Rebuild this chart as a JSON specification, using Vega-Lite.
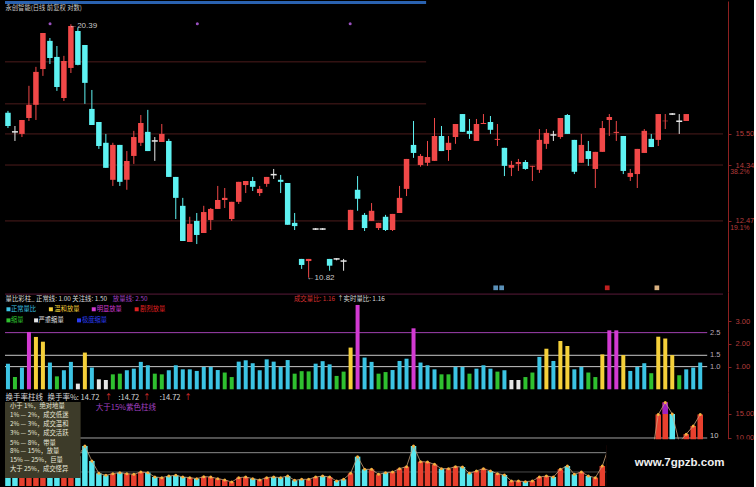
{
"$schema":"https://vega.github.io/schema/vega-lite/v6.json",
"background":"#000000",
"padding":0,
"spacing":0,
"config":{"view":{"stroke":null},"axis":{"grid":false,"domainColor":"#8c2020","tickColor":"#8c2020","labelColor":"#b53c3c","labelFont":"Liberation Sans","labelFontSize":7.5,"tickSize":3,"labelPadding":4},"text":{"font":"Noto Sans CJK SC"}},
"datasets":{
"k":[
{"i":0,"o":16.34,"h":16.42,"l":15.73,"c":15.81,"vr":1.13,"vt":"正常量比","t":3.5,"d":"down"},
{"i":1,"o":15.58,"h":15.81,"l":15.23,"c":15.58,"vr":0.54,"vt":"缩量","t":2.8,"d":"down"},
{"i":2,"o":15.50,"h":16.05,"l":15.38,"c":16.05,"vr":0.96,"vt":"正常量比","t":3.2,"d":"up"},
{"i":3,"o":16.13,"h":17.48,"l":16.01,"c":16.67,"vr":2.53,"vt":"明显放量","t":4.0,"d":"up"},
{"i":4,"o":16.67,"h":18.33,"l":16.05,"c":18.10,"vr":2.31,"vt":"温和放量","t":5.5,"d":"up"},
{"i":5,"o":18.23,"h":19.95,"l":17.92,"c":19.95,"vr":2.10,"vt":"温和放量","t":6.5,"d":"up"},
{"i":6,"o":19.56,"h":19.70,"l":18.46,"c":18.74,"vr":1.18,"vt":"正常量比","t":5.8,"d":"down"},
{"i":7,"o":18.79,"h":19.31,"l":17.26,"c":17.43,"vr":0.57,"vt":"缩量","t":5.0,"d":"down"},
{"i":8,"o":16.96,"h":18.84,"l":16.83,"c":18.60,"vr":0.84,"vt":"正常量比","t":5.2,"d":"up"},
{"i":9,"o":18.28,"h":20.39,"l":18.05,"c":20.30,"vr":1.21,"vt":"正常量比","t":7.0,"d":"up"},
{"i":10,"o":20.05,"h":20.20,"l":18.40,"c":18.42,"vr":0.25,"vt":"严重缩量","t":6.2,"d":"down"},
{"i":11,"o":19.36,"h":19.36,"l":16.71,"c":17.61,"vr":1.62,"vt":"温和放量","t":8.33,"d":"down"},
{"i":12,"o":16.50,"h":17.30,"l":15.85,"c":15.85,"vr":0.96,"vt":"正常量比","t":5.21,"d":"down"},
{"i":13,"o":15.97,"h":15.97,"l":14.93,"c":15.04,"vr":0.44,"vt":"严重缩量","t":2.64,"d":"down"},
{"i":14,"o":15.16,"h":15.50,"l":14.24,"c":14.24,"vr":0.41,"vt":"严重缩量","t":2.22,"d":"down"},
{"i":15,"o":13.82,"h":15.16,"l":13.61,"c":15.08,"vr":0.66,"vt":"缩量","t":2.57,"d":"up"},
{"i":16,"o":15.08,"h":15.08,"l":13.61,"c":13.75,"vr":0.69,"vt":"缩量","t":2.78,"d":"down"},
{"i":17,"o":13.82,"h":14.85,"l":13.48,"c":14.49,"vr":0.84,"vt":"正常量比","t":2.57,"d":"up"},
{"i":18,"o":14.67,"h":15.62,"l":14.38,"c":15.38,"vr":0.91,"vt":"正常量比","t":2.43,"d":"up"},
{"i":19,"o":15.16,"h":16.25,"l":15.04,"c":15.93,"vr":1.21,"vt":"正常量比","t":2.92,"d":"up"},
{"i":20,"o":15.58,"h":16.46,"l":14.85,"c":14.85,"vr":1.06,"vt":"正常量比","t":2.78,"d":"down"},
{"i":21,"o":15.23,"h":15.38,"l":14.49,"c":15.23,"vr":0.69,"vt":"缩量","t":1.88,"d":"down"},
{"i":22,"o":15.19,"h":15.89,"l":15.19,"c":15.50,"vr":0.66,"vt":"缩量","t":1.74,"d":"up"},
{"i":23,"o":15.23,"h":15.31,"l":13.92,"c":13.92,"vr":0.84,"vt":"正常量比","t":2.08,"d":"down"},
{"i":24,"o":13.92,"h":13.92,"l":12.53,"c":13.21,"vr":1.06,"vt":"正常量比","t":2.22,"d":"down"},
{"i":25,"o":12.95,"h":13.21,"l":11.86,"c":11.86,"vr":0.88,"vt":"正常量比","t":1.88,"d":"down"},
{"i":26,"o":11.83,"h":12.60,"l":11.83,"c":12.38,"vr":0.88,"vt":"正常量比","t":1.74,"d":"up"},
{"i":27,"o":12.47,"h":12.72,"l":11.77,"c":12.04,"vr":0.81,"vt":"正常量比","t":1.53,"d":"down"},
{"i":28,"o":12.10,"h":12.95,"l":12.10,"c":12.75,"vr":0.99,"vt":"正常量比","t":1.94,"d":"up"},
{"i":29,"o":12.50,"h":12.88,"l":12.19,"c":12.85,"vr":0.99,"vt":"正常量比","t":1.88,"d":"up"},
{"i":30,"o":12.85,"h":13.61,"l":12.85,"c":13.14,"vr":0.85,"vt":"正常量比","t":1.53,"d":"up"},
{"i":31,"o":13.14,"h":13.54,"l":12.88,"c":13.21,"vr":0.74,"vt":"缩量","t":1.25,"d":"up"},
{"i":32,"o":12.53,"h":13.08,"l":12.47,"c":13.08,"vr":0.54,"vt":"缩量","t":0.83,"d":"up"},
{"i":33,"o":13.08,"h":13.75,"l":13.01,"c":13.75,"vr":1.22,"vt":"正常量比","t":1.74,"d":"up"},
{"i":34,"o":13.64,"h":13.78,"l":13.37,"c":13.78,"vr":1.28,"vt":"正常量比","t":1.88,"d":"up"},
{"i":35,"o":13.78,"h":13.92,"l":13.44,"c":13.58,"vr":1.15,"vt":"正常量比","t":1.53,"d":"down"},
{"i":36,"o":13.37,"h":13.61,"l":13.27,"c":13.51,"vr":0.84,"vt":"正常量比","t":1.25,"d":"up"},
{"i":37,"o":13.68,"h":13.92,"l":13.58,"c":13.92,"vr":1.32,"vt":"正常量比","t":1.74,"d":"up"},
{"i":38,"o":14.00,"h":14.20,"l":13.85,"c":14.00,"vr":1.22,"vt":"正常量比","t":1.88,"d":"down"},
{"i":39,"o":13.82,"h":13.99,"l":13.37,"c":13.75,"vr":0.99,"vt":"正常量比","t":1.74,"d":"down"},
{"i":40,"o":13.71,"h":13.71,"l":12.35,"c":12.35,"vr":1.29,"vt":"正常量比","t":2.08,"d":"down"},
{"i":41,"o":12.41,"h":12.72,"l":12.19,"c":12.31,"vr":0.69,"vt":"缩量","t":1.18,"d":"down"},
{"i":42,"o":11.34,"h":11.34,"l":11.06,"c":11.17,"vr":0.80,"vt":"缩量","t":1.39,"d":"down"},
{"i":43,"o":11.28,"h":11.34,"l":10.82,"c":11.34,"vr":0.79,"vt":"缩量","t":1.39,"d":"up"},
{"i":44,"o":12.22,"h":12.25,"l":12.19,"c":12.22,"vr":1.13,"vt":"正常量比","t":1.88,"d":"up"},
{"i":45,"o":12.22,"h":12.25,"l":12.19,"c":12.22,"vr":1.24,"vt":"正常量比","t":2.08,"d":"down"},
{"i":46,"o":11.34,"h":11.34,"l":11.01,"c":11.15,"vr":1.10,"vt":"正常量比","t":1.88,"d":"up"},
{"i":47,"o":11.34,"h":11.36,"l":11.30,"c":11.34,"vr":0.59,"vt":"缩量","t":1.04,"d":"down"},
{"i":48,"o":11.28,"h":11.34,"l":11.01,"c":11.28,"vr":0.78,"vt":"缩量","t":1.39,"d":"down"},
{"i":49,"o":12.19,"h":12.82,"l":12.19,"c":12.82,"vr":1.84,"vt":"温和放量","t":2.64,"d":"up"},
{"i":50,"o":13.48,"h":13.95,"l":12.79,"c":13.18,"vr":3.72,"vt":"明显放量","t":6.11,"d":"down"},
{"i":51,"o":12.66,"h":12.72,"l":12.16,"c":12.25,"vr":1.40,"vt":"正常量比","t":3.47,"d":"down"},
{"i":52,"o":12.47,"h":13.04,"l":12.47,"c":12.79,"vr":1.21,"vt":"正常量比","t":3.47,"d":"up"},
{"i":53,"o":12.25,"h":12.41,"l":12.19,"c":12.41,"vr":0.69,"vt":"缩量","t":2.43,"d":"up"},
{"i":54,"o":12.60,"h":12.66,"l":12.16,"c":12.19,"vr":0.76,"vt":"缩量","t":2.78,"d":"down"},
{"i":55,"o":12.19,"h":12.69,"l":12.16,"c":12.69,"vr":0.85,"vt":"正常量比","t":2.92,"d":"up"},
{"i":56,"o":12.72,"h":13.61,"l":12.72,"c":13.21,"vr":1.25,"vt":"正常量比","t":3.61,"d":"up"},
{"i":57,"o":13.51,"h":14.56,"l":13.27,"c":14.56,"vr":1.35,"vt":"正常量比","t":4.03,"d":"up"},
{"i":58,"o":15.08,"h":16.01,"l":14.60,"c":14.78,"vr":2.69,"vt":"明显放量","t":8.33,"d":"down"},
{"i":59,"o":14.34,"h":14.74,"l":14.28,"c":14.67,"vr":1.18,"vt":"正常量比","t":5.07,"d":"up"},
{"i":60,"o":14.42,"h":15.23,"l":14.31,"c":14.63,"vr":1.06,"vt":"正常量比","t":5.0,"d":"up"},
{"i":61,"o":14.49,"h":16.13,"l":14.49,"c":15.42,"vr":0.88,"vt":"正常量比","t":4.51,"d":"up"},
{"i":62,"o":15.42,"h":15.81,"l":14.85,"c":14.85,"vr":0.66,"vt":"缩量","t":3.61,"d":"down"},
{"i":63,"o":14.89,"h":15.42,"l":14.49,"c":15.16,"vr":0.66,"vt":"缩量","t":3.61,"d":"up"},
{"i":64,"o":15.38,"h":15.89,"l":15.12,"c":15.89,"vr":0.99,"vt":"正常量比","t":4.03,"d":"up"},
{"i":65,"o":16.29,"h":16.29,"l":15.58,"c":15.58,"vr":0.99,"vt":"正常量比","t":3.96,"d":"down"},
{"i":66,"o":15.62,"h":16.09,"l":15.31,"c":15.50,"vr":0.69,"vt":"缩量","t":2.64,"d":"down"},
{"i":67,"o":15.23,"h":16.09,"l":15.23,"c":15.89,"vr":0.91,"vt":"正常量比","t":3.13,"d":"up"},
{"i":68,"o":15.89,"h":16.29,"l":15.89,"c":15.93,"vr":1.06,"vt":"正常量比","t":3.61,"d":"up"},
{"i":69,"o":15.97,"h":16.21,"l":15.50,"c":15.66,"vr":0.91,"vt":"正常量比","t":3.13,"d":"down"},
{"i":70,"o":15.27,"h":15.89,"l":15.04,"c":15.31,"vr":0.78,"vt":"缩量","t":2.57,"d":"up"},
{"i":71,"o":14.97,"h":14.97,"l":13.95,"c":14.31,"vr":0.84,"vt":"正常量比","t":2.29,"d":"down"},
{"i":72,"o":14.24,"h":14.49,"l":13.95,"c":14.34,"vr":0.41,"vt":"严重缩量","t":1.04,"d":"up"},
{"i":73,"o":14.38,"h":14.56,"l":14.13,"c":14.45,"vr":0.41,"vt":"严重缩量","t":1.04,"d":"up"},
{"i":74,"o":14.45,"h":14.52,"l":14.17,"c":14.20,"vr":0.54,"vt":"缩量","t":0.90,"d":"down"},
{"i":75,"o":14.28,"h":14.31,"l":13.78,"c":14.31,"vr":0.74,"vt":"缩量","t":1.04,"d":"up"},
{"i":76,"o":14.17,"h":15.69,"l":14.06,"c":15.27,"vr":1.43,"vt":"正常量比","t":1.88,"d":"up"},
{"i":77,"o":15.12,"h":15.69,"l":14.93,"c":15.54,"vr":1.79,"vt":"温和放量","t":2.08,"d":"up"},
{"i":78,"o":15.46,"h":15.62,"l":15.23,"c":15.46,"vr":1.25,"vt":"正常量比","t":1.88,"d":"down"},
{"i":79,"o":15.38,"h":16.13,"l":15.31,"c":16.13,"vr":2.13,"vt":"温和放量","t":3.47,"d":"up"},
{"i":80,"o":16.25,"h":16.29,"l":15.50,"c":15.50,"vr":1.91,"vt":"温和放量","t":4.17,"d":"down"},
{"i":81,"o":15.27,"h":15.27,"l":14.02,"c":14.10,"vr":0.88,"vt":"正常量比","t":2.43,"d":"down"},
{"i":82,"o":14.42,"h":15.50,"l":14.42,"c":15.08,"vr":0.99,"vt":"正常量比","t":2.92,"d":"up"},
{"i":83,"o":14.85,"h":15.23,"l":14.31,"c":14.56,"vr":0.74,"vt":"缩量","t":2.08,"d":"down"},
{"i":84,"o":14.20,"h":14.82,"l":13.54,"c":14.82,"vr":0.54,"vt":"缩量","t":1.74,"d":"up"},
{"i":85,"o":14.82,"h":16.01,"l":14.82,"c":15.73,"vr":1.54,"vt":"温和放量","t":4.17,"d":"up"},
{"i":86,"o":16.05,"h":16.29,"l":15.42,"c":16.17,"vr":2.60,"vt":"明显放量","t":8.5,"d":"up"},
{"i":87,"o":15.54,"h":16.01,"l":15.23,"c":15.58,"vr":2.60,"vt":"明显放量","t":9.0,"d":"up"},
{"i":88,"o":15.42,"h":15.42,"l":14.02,"c":14.13,"vr":1.51,"vt":"温和放量","t":7.5,"d":"down"},
{"i":89,"o":13.92,"h":14.20,"l":13.78,"c":14.06,"vr":0.81,"vt":"正常量比","t":5.0,"d":"up"},
{"i":90,"o":14.02,"h":14.93,"l":13.54,"c":14.93,"vr":0.99,"vt":"正常量比","t":6.0,"d":"up"},
{"i":91,"o":14.78,"h":15.69,"l":14.78,"c":15.62,"vr":1.15,"vt":"正常量比","t":7.0,"d":"up"},
{"i":92,"o":15.31,"h":15.50,"l":15.00,"c":15.00,"vr":0.71,"vt":"缩量","t":5.5,"d":"down"},
{"i":93,"o":15.27,"h":16.29,"l":15.04,"c":16.29,"vr":2.32,"vt":"温和放量","t":14.9,"d":"up"},
{"i":94,"o":16.00,"h":16.29,"l":15.69,"c":16.02,"vr":2.24,"vt":"温和放量","t":17.4,"d":"up"},
{"i":95,"o":16.29,"h":16.33,"l":16.25,"c":16.29,"vr":1.51,"vt":"温和放量","t":15.0,"d":"down"},
{"i":96,"o":16.00,"h":16.29,"l":15.50,"c":16.00,"vr":0.62,"vt":"缩量","t":9.0,"d":"down"},
{"i":97,"o":16.01,"h":16.29,"l":16.01,"c":16.29,"vr":0.88,"vt":"正常量比","t":10.8,"d":"up"},
{"i":98,"vr":0.96,"vt":"正常量比","t":12.5,"d":"up"},
{"i":99,"vr":1.18,"vt":"正常量比","t":14.9,"d":"up"}
],
"p1lines":[{"a":-0.423,"b":59.8,"p":18.56},{"a":-0.423,"b":59.8,"p":16.71},{"a":-0.423,"b":102.257,"p":15.5},{"a":-0.423,"b":102.257,"p":14.34},{"a":-0.423,"b":102.257,"p":12.47}],
"topbar":[{"a":-0.423,"b":59.8,"p":21.53}],
"pdots":[{"i":6.02,"p":20.42},{"i":27.08,"p":20.42},{"i":48.94,"p":20.42}],
"icons":[{"i":69.75,"p":10.55,"s":"融"},{"i":70.6,"p":10.55,"s":"财"},{"i":85.7,"p":10.55,"s":"点"},{"i":92.8,"p":10.55,"s":"标"}],
"arrows":[{"i":8.75,"p":20.32,"s":"←20.39"},{"i":42.7,"p":10.80,"s":"←10.82"}],
"p1head":[{"i":-0.35,"p":21.24,"s":"永创智能(日线 前复权 对数)"}],
"pct":[{"i":103.3,"p":14.08,"s":"38.2%"},{"i":103.3,"p":12.24,"s":"19.1%"}],
"p2lines":[{"a":-0.423,"b":100.0,"v":2.5,"k":"放量线"},{"a":-0.423,"b":100.0,"v":1.5,"k":"关注线"},{"a":-0.423,"b":100.0,"v":1.0,"k":"正常线"},{"a":-0.423,"b":102.257,"v":4.2,"k":"边框"}],
"p2lab":[{"i":100.4,"v":2.5,"s":"2.5"},{"i":100.4,"v":1.5,"s":"1.5"},{"i":100.4,"v":1.0,"s":"1.0"}],
"p2leg":[{"a":0.07,"b":0.42,"v":3.53,"vt":"正常量比"},{"a":6.14,"b":6.63,"v":3.53,"vt":"温和放量"},{"a":12.27,"b":12.69,"v":3.53,"vt":"明显放量"},{"a":18.41,"b":18.9,"v":3.53,"vt":"剧烈放量"},{"a":0.07,"b":0.42,"v":3.04,"vt":"缩量"},{"a":4.02,"b":4.37,"v":3.04,"vt":"严重缩量"},{"a":10.16,"b":10.58,"v":3.04,"vt":"极度缩量"}],
"p2head":[{"i":-0.35,"v":4.0,"s":"量比彩柱_  正常线: 1.00  关注线: 1.50","vt":"白"},{"i":15.0,"v":4.0,"s":"放量线: 2.50","vt":"紫"},{"i":40.9,"v":4.0,"s":"成交量比: 1.16","vt":"红"},{"i":47.1,"v":4.0,"s":"↑","vt":"白"},{"i":48.0,"v":4.0,"s":"实时量比: 1.16","vt":"白"}],
"p3lines":[{"a":-0.423,"b":102.257,"v":2.92,"d":"线1"},{"a":-0.423,"b":102.257,"v":6.94,"d":"线2"},{"a":-0.423,"b":100.0,"v":10,"d":"线3"}],
"p3over":[{"i":94,"a":15,"b":17.4}],
"p3box":[{"a":85.55,"b":106.0,"v1":9.75,"v2":-0.417}],
"p3legbox":[{"a":-0.423,"b":10.39,"v1":17.5,"v2":1.67}],
"p3wm":[{"i":96.05,"v":4.79,"s":"www.7gpzb.com"}],
"p3ten":[{"i":100.4,"v":10,"s":"10"}],
"p3leg":[{"i":0.28,"v":16.56,"s":"小于 1%，绝对地量"},{"i":0.28,"v":14.75,"s":"1% — 2%，成交低迷"},{"i":0.28,"v":12.88,"s":"2% — 3%，成交温和"},{"i":0.28,"v":10.94,"s":"3% — 5%，成交活跃"},{"i":0.28,"v":9.06,"s":"5% — 8%，带量"},{"i":0.28,"v":7.19,"s":"8% — 15%，放量"},{"i":0.28,"v":5.35,"s":"15% — 25%，巨量"},{"i":0.28,"v":3.58,"s":"大于 25%，成交怪异"}],
"p3head":[{"i":-0.35,"v":18.4,"s":"换手率柱线","d":"白"},{"i":5.64,"v":18.4,"s":"换手率%: 14.72","d":"白"},{"i":13.85,"v":18.4,"s":"↑","d":"红"},{"i":15.8,"v":18.4,"s":":14.72","d":"白"},{"i":19.3,"v":18.4,"s":"↑","d":"红"},{"i":21.7,"v":18.4,"s":":14.72","d":"白"},{"i":25.2,"v":18.4,"s":"↑","d":"红"},{"i":12.55,"v":16.3,"s":"大于15%紫色柱线","d":"紫"}]
},
"vconcat":[
{"width":728,"height":291,
"layer":[
{"data":{"name":"p1lines"},"mark":{"type":"rule","color":"#4d1c1c","strokeWidth":1},
 "encoding":{"x":{"field":"a","type":"quantitative","scale":{"domain":[-0.423,102.257],"nice":false,"zero":false},"axis":null},"x2":{"field":"b"},
 "y":{"field":"p","type":"quantitative","scale":{"type":"log","domain":[10.44,21.61],"nice":false},"axis":{"orient":"right","values":[15.5,14.34,12.47],"format":".2f","title":null}}}},
{"data":{"name":"topbar"},"mark":{"type":"rule","color":"#2a62b0","strokeWidth":3},
 "encoding":{"x":{"field":"a","type":"quantitative","axis":null},"x2":{"field":"b"},"y":{"field":"p","type":"quantitative","axis":{"orient":"right","values":[15.5,14.34,12.47],"format":".2f","title":null}}}},
{"data":{"name":"k"},"transform":[{"filter":"isValid(datum.o)"}],"mark":{"type":"rule","strokeWidth":1},
 "encoding":{"x":{"field":"i","type":"quantitative","axis":null},"y":{"field":"l","type":"quantitative","axis":{"orient":"right","values":[15.5,14.34,12.47],"format":".2f","title":null}},"y2":{"field":"h"},
 "color":{"condition":[{"test":"datum.c > datum.o","value":"#f04848"},{"test":"datum.c < datum.o","value":"#5ef2f2"}],"value":"#e8e8e8"}}},
{"data":{"name":"k"},"transform":[{"filter":"isValid(datum.o) && datum.o != datum.c"}],"mark":{"type":"bar","size":5.5},
 "encoding":{"x":{"field":"i","type":"quantitative","axis":null},"y":{"field":"o","type":"quantitative","axis":{"orient":"right","values":[15.5,14.34,12.47],"format":".2f","title":null}},"y2":{"field":"c"},
 "color":{"condition":{"test":"datum.c > datum.o","value":"#f04848"},"value":"#5ef2f2"}}},
{"data":{"name":"k"},"transform":[{"filter":"isValid(datum.o) && datum.o == datum.c"}],"mark":{"type":"point","shape":"M-1,0L1,0","strokeWidth":1.5,"size":36,"color":"#e8e8e8","opacity":1},
 "encoding":{"x":{"field":"i","type":"quantitative","axis":null},"y":{"field":"o","type":"quantitative","axis":{"orient":"right","values":[15.5,14.34,12.47],"format":".2f","title":null}}}},
{"data":{"name":"pdots"},"mark":{"type":"point","filled":true,"size":9,"color":"#9a50c0","opacity":1},
 "encoding":{"x":{"field":"i","type":"quantitative","axis":null},"y":{"field":"p","type":"quantitative","axis":{"orient":"right","values":[15.5,14.34,12.47],"format":".2f","title":null}}}},
{"data":{"name":"icons"},"mark":{"type":"point","filled":true,"shape":"square","size":22,"opacity":1},
 "encoding":{"x":{"field":"i","type":"quantitative","axis":null},"y":{"field":"p","type":"quantitative","axis":{"orient":"right","values":[15.5,14.34,12.47],"format":".2f","title":null}},
 "color":{"condition":[{"test":"datum.s=='点'","value":"#c02020"},{"test":"datum.s=='标'","value":"#d8b080"}],"value":"#5a90b8"}}},
{"data":{"name":"arrows"},"mark":{"type":"text","align":"left","baseline":"middle","fontSize":8,"color":"#c8c8c8","font":"Liberation Sans"},
 "encoding":{"x":{"field":"i","type":"quantitative","axis":null},"y":{"field":"p","type":"quantitative","axis":{"orient":"right","values":[15.5,14.34,12.47],"format":".2f","title":null}},"text":{"field":"s","type":"nominal"}}},
{"data":{"name":"p1head"},"mark":{"type":"text","align":"left","baseline":"middle","fontSize":6.3,"color":"#c8c8c8"},
 "encoding":{"x":{"field":"i","type":"quantitative","axis":null},"y":{"field":"p","type":"quantitative","axis":{"orient":"right","values":[15.5,14.34,12.47],"format":".2f","title":null}},"text":{"field":"s","type":"nominal"}}},
{"data":{"name":"pct"},"mark":{"type":"text","align":"left","baseline":"middle","fontSize":6.8,"color":"#b53c3c","font":"Liberation Sans"},
 "encoding":{"x":{"field":"i","type":"quantitative","axis":null},"y":{"field":"p","type":"quantitative","axis":{"orient":"right","values":[15.5,14.34,12.47],"format":".2f","title":null}},"text":{"field":"s","type":"nominal"}}}
]},
{"width":728,"height":100,
"layer":[
{"data":{"name":"p2lines"},"mark":{"type":"rule","strokeWidth":1},
 "encoding":{"x":{"field":"a","type":"quantitative","scale":{"domain":[-0.423,102.257],"nice":false,"zero":false},"axis":null},"x2":{"field":"b"},
 "y":{"field":"v","type":"quantitative","scale":{"domain":[-0.119,4.292],"nice":false,"zero":false},"axis":{"orient":"right","values":[1,2,3],"format":".2f","title":null}},
 "color":{"condition":[{"test":"datum.k=='放量线'","value":"#a040b0"},{"test":"datum.k=='边框'","value":"#5a1a3a"}],"value":"#c8c8c8"}}},
{"data":{"name":"k"},"mark":{"type":"bar","size":4},
 "encoding":{"x":{"field":"i","type":"quantitative","axis":null},"y":{"field":"vr","type":"quantitative","axis":{"orient":"right","values":[1,2,3],"format":".2f","title":null}},
 "color":{"condition":[{"test":"datum.vt=='温和放量'","value":"#f5d03a"},{"test":"datum.vt=='明显放量'","value":"#d23ad2"},{"test":"datum.vt=='剧烈放量'","value":"#e02020"},{"test":"datum.vt=='缩量'","value":"#2fc02f"},{"test":"datum.vt=='严重缩量'","value":"#e6e6e6"},{"test":"datum.vt=='极度缩量'","value":"#2a3cf0"}],"value":"#3cc4e4"}}},
{"data":{"name":"p2lab"},"mark":{"type":"text","align":"left","baseline":"middle","fontSize":7.5,"color":"#b8a8b8","font":"Liberation Sans"},
 "encoding":{"x":{"field":"i","type":"quantitative","axis":null},"y":{"field":"v","type":"quantitative","axis":{"orient":"right","values":[1,2,3],"format":".2f","title":null}},"text":{"field":"s","type":"nominal"}}},
{"data":{"name":"p2leg"},"mark":{"type":"point","filled":true,"shape":"square","size":16,"opacity":1},
 "encoding":{"x":{"field":"a","type":"quantitative","axis":null},"y":{"field":"v","type":"quantitative","axis":{"orient":"right","values":[1,2,3],"format":".2f","title":null}},
 "color":{"condition":[{"test":"datum.vt=='温和放量'","value":"#f5d03a"},{"test":"datum.vt=='明显放量'","value":"#d23ad2"},{"test":"datum.vt=='剧烈放量'","value":"#e02020"},{"test":"datum.vt=='缩量'","value":"#2fc02f"},{"test":"datum.vt=='严重缩量'","value":"#e6e6e6"},{"test":"datum.vt=='极度缩量'","value":"#2a3cf0"}],"value":"#3cc4e4"}}},
{"data":{"name":"p2leg"},"mark":{"type":"text","align":"left","baseline":"middle","fontSize":6.3},
 "encoding":{"x":{"field":"b","type":"quantitative","axis":null},"y":{"field":"v","type":"quantitative","axis":{"orient":"right","values":[1,2,3],"format":".2f","title":null}},"text":{"field":"vt","type":"nominal"},
 "color":{"condition":[{"test":"datum.vt=='温和放量'","value":"#f5d03a"},{"test":"datum.vt=='明显放量'","value":"#d23ad2"},{"test":"datum.vt=='剧烈放量'","value":"#e02020"},{"test":"datum.vt=='缩量'","value":"#2fc02f"},{"test":"datum.vt=='严重缩量'","value":"#e6e6e6"},{"test":"datum.vt=='极度缩量'","value":"#2a3cf0"}],"value":"#3cc4e4"}}},
{"data":{"name":"p2head"},"mark":{"type":"text","align":"left","baseline":"middle","fontSize":6.4},
 "encoding":{"x":{"field":"i","type":"quantitative","axis":null},"y":{"field":"v","type":"quantitative","axis":{"orient":"right","values":[1,2,3],"format":".2f","title":null}},"text":{"field":"s","type":"nominal"},
 "color":{"condition":[{"test":"datum.vt=='紫'","value":"#a040c0"},{"test":"datum.vt=='红'","value":"#d83030"}],"value":"#d8d8d8"}}}
]},
{"width":728,"height":96,
"layer":[
{"data":{"name":"p3lines"},"mark":{"type":"rule","strokeWidth":1},
 "encoding":{"x":{"field":"a","type":"quantitative","scale":{"domain":[-0.423,102.257],"nice":false,"zero":false},"axis":null},"x2":{"field":"b"},
 "y":{"field":"v","type":"quantitative","scale":{"domain":[-0.417,19.58],"nice":false,"zero":false},"axis":{"orient":"right","values":[10,15],"format":".2f","title":null}},
 "color":{"condition":[{"test":"datum.d=='线1'","value":"#4a4a4a"},{"test":"datum.d=='线2'","value":"#8a8a8a"}],"value":"#a0a0a0"}}},
{"data":{"name":"k"},"mark":{"type":"bar","size":5.5},
 "encoding":{"x":{"field":"i","type":"quantitative","axis":null},"y":{"field":"t","type":"quantitative","axis":{"orient":"right","values":[10,15],"format":".2f","title":null}},
 "color":{"condition":{"test":"datum.d=='up'","value":"#e8402e"},"value":"#58e8f0"}}},
{"data":{"name":"p3over"},"mark":{"type":"bar","size":5.5,"color":"#a020c0"},
 "encoding":{"x":{"field":"i","type":"quantitative","axis":null},"y":{"field":"a","type":"quantitative","axis":{"orient":"right","values":[10,15],"format":".2f","title":null}},"y2":{"field":"b"}}},
{"data":{"name":"k"},"mark":{"type":"line","color":"#c8a078","strokeWidth":0.8},
 "encoding":{"x":{"field":"i","type":"quantitative","axis":null},"y":{"field":"t","type":"quantitative","axis":{"orient":"right","values":[10,15],"format":".2f","title":null}}}},
{"data":{"name":"k"},"mark":{"type":"point","filled":true,"size":9,"color":"#f5b040","opacity":1},
 "encoding":{"x":{"field":"i","type":"quantitative","axis":null},"y":{"field":"t","type":"quantitative","axis":{"orient":"right","values":[10,15],"format":".2f","title":null}}}},
{"data":{"name":"p3box"},"mark":{"type":"rect","color":"#000000"},
 "encoding":{"x":{"field":"a","type":"quantitative","axis":null},"x2":{"field":"b"},"y":{"field":"v1","type":"quantitative","axis":{"orient":"right","values":[10,15],"format":".2f","title":null}},"y2":{"field":"v2"}}},
{"data":{"name":"p3wm"},"mark":{"type":"text","align":"center","baseline":"middle","fontSize":11.5,"fontWeight":"bold","font":"Liberation Sans","color":"#f0f0f0"},
 "encoding":{"x":{"field":"i","type":"quantitative","axis":null},"y":{"field":"v","type":"quantitative","axis":{"orient":"right","values":[10,15],"format":".2f","title":null}},"text":{"field":"s","type":"nominal"}}},
{"data":{"name":"p3ten"},"mark":{"type":"text","align":"left","baseline":"alphabetic","fontSize":7.5,"font":"Liberation Sans","color":"#c8c8c8"},
 "encoding":{"x":{"field":"i","type":"quantitative","axis":null},"y":{"field":"v","type":"quantitative","axis":{"orient":"right","values":[10,15],"format":".2f","title":null}},"text":{"field":"s","type":"nominal"}}},
{"data":{"name":"p3legbox"},"mark":{"type":"rect","color":"#3d3b29"},
 "encoding":{"x":{"field":"a","type":"quantitative","axis":null},"x2":{"field":"b"},"y":{"field":"v1","type":"quantitative","axis":{"orient":"right","values":[10,15],"format":".2f","title":null}},"y2":{"field":"v2"}}},
{"data":{"name":"p3leg"},"mark":{"type":"text","align":"left","baseline":"middle","fontSize":6.3,"color":"#e8e8d8"},
 "encoding":{"x":{"field":"i","type":"quantitative","axis":null},"y":{"field":"v","type":"quantitative","axis":{"orient":"right","values":[10,15],"format":".2f","title":null}},"text":{"field":"s","type":"nominal"}}},
{"data":{"name":"p3head"},"mark":{"type":"text","align":"left","baseline":"middle","fontSize":7.5},
 "encoding":{"x":{"field":"i","type":"quantitative","axis":null},"y":{"field":"v","type":"quantitative","axis":{"orient":"right","values":[10,15],"format":".2f","title":null}},"text":{"field":"s","type":"nominal"},
 "color":{"condition":[{"test":"datum.d=='紫'","value":"#a040c0"},{"test":"datum.d=='红'","value":"#e03030"}],"value":"#d8d8d8"}}}
]}
]
}
